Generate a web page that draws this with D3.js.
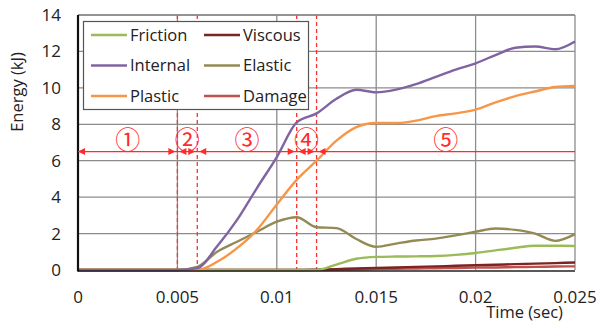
<!DOCTYPE html>
<html lang="en">
<head>
<meta charset="utf-8">
<title>Energy history</title>
<script src="https://d3js.org/d3.v7.min.js"></script>
<style>
  body { margin: 0; background: #fff; }
  text { font-family: "Open Sans", "Noto Sans", sans-serif; fill: #222; }
</style>
</head>
<body>
<div id="chart"></div>
<script>
// time samples (sec)
var times = [0, 0.001, 0.002, 0.003, 0.004, 0.005, 0.006, 0.007, 0.008, 0.009, 0.010,
  0.011, 0.012, 0.013, 0.014, 0.015, 0.016, 0.017, 0.018, 0.019, 0.020,
  0.021, 0.022, 0.023, 0.024, 0.025];

// energies (kJ)
var friction = [0, 0, 0, 0, 0, 0, 0, 0, 0, 0, 0, 0, 0, 0.3, 0.62, 0.72, 0.74, 0.75, 0.77, 0.83, 0.93, 1.08, 1.22, 1.33, 1.33, 1.32];
var viscous  = [0, 0, 0, 0, 0, 0, 0, 0, 0, 0, 0, 0, 0.02, 0.05, 0.08, 0.11, 0.14, 0.17, 0.2, 0.23, 0.26, 0.29, 0.32, 0.35, 0.38, 0.41];
var internal = [0, 0, 0, 0, 0, 0, 0.1, 1.3, 2.75, 4.5, 6.2, 8.1, 8.6, 9.4, 9.9, 9.75, 9.9, 10.2, 10.6, 11.0, 11.35, 11.8, 12.2, 12.27, 12.12, 12.55];
var elastic  = [0, 0, 0, 0, 0, 0, 0.17, 1.0, 1.55, 2.1, 2.65, 2.9, 2.35, 2.3, 1.7, 1.27, 1.45, 1.62, 1.72, 1.9, 2.1, 2.28, 2.2, 2.0, 1.6, 1.97];
var plastic  = [0, 0, 0, 0, 0, 0, 0, 0.45, 1.2, 2.2, 3.6, 4.95, 6.0, 7.1, 7.85, 8.07, 8.07, 8.2, 8.45, 8.6, 8.8, 9.2, 9.55, 9.8, 10.05, 10.1];
var damage   = [0, 0, 0, 0, 0, 0, 0, 0, 0, 0, 0, 0, 0, 0.01, 0.03, 0.05, 0.07, 0.08, 0.1, 0.11, 0.13, 0.14, 0.16, 0.17, 0.19, 0.2];

var seriesNames = ['Friction', 'Viscous', 'Internal', 'Elastic', 'Plastic', 'Damage'];
var seriesColors = ['#9bbb59', '#7b2421', '#8064a2', '#948a54', '#f79646', '#c0504d'];
var seriesValues = [friction, viscous, internal, elastic, plastic, damage];

var xTicks = [0, 0.005, 0.01, 0.015, 0.02, 0.025];
var yTicks = [0, 2, 4, 6, 8, 10, 12, 14];

// phase boundaries and labels
var phaseEdges = [0, 0.005, 0.006, 0.011, 0.012, 0.025];
var phaseLabels = ['①', '②', '③', '④', '⑤'];
var phaseLevel = 6.5;

var width = 599, height = 327;
var margin = { top: 15, right: 24, bottom: 57, left: 78 };

var svg = d3.select('#chart').append('svg')
  .attr('width', width)
  .attr('height', height);

var x = d3.scaleLinear().domain([0, 0.025]).range([margin.left, width - margin.right]);
var y = d3.scaleLinear().domain([0, 14]).range([height - margin.bottom, margin.top]);

// grid lines
svg.append('g').selectAll('line').data(yTicks.slice(1)).enter().append('line')
  .attr('x1', x(0)).attr('x2', x(0.025))
  .attr('y1', function (d) { return y(d); }).attr('y2', function (d) { return y(d); })
  .attr('stroke', '#8c8c8c').attr('stroke-width', 1.3);
svg.append('g').selectAll('line').data(xTicks.slice(1)).enter().append('line')
  .attr('x1', function (d) { return x(d); }).attr('x2', function (d) { return x(d); })
  .attr('y1', y(0)).attr('y2', y(14))
  .attr('stroke', '#8c8c8c').attr('stroke-width', 1.3);

// tick labels
svg.append('g').selectAll('text').data(yTicks).enter().append('text')
  .attr('x', x(0) - 17).attr('y', function (d) { return y(d); })
  .attr('dy', '0.35em').attr('text-anchor', 'end')
  .attr('font-size', '17px')
  .text(function (d) { return d; });
svg.append('g').selectAll('text').data(xTicks).enter().append('text')
  .attr('x', function (d) { return x(d); }).attr('y', 303)
  .attr('text-anchor', 'middle')
  .attr('font-size', '17px')
  .text(function (d) { return d3.format('')(d); });

svg.append('text')
  .attr('transform', 'translate(23,92) rotate(-90)')
  .attr('text-anchor', 'middle').attr('font-size', '16.5px')
  .text('Energy (kJ)');
svg.append('text')
  .attr('x', 563).attr('y', 318).attr('text-anchor', 'end')
  .attr('font-size', '16.5px')
  .text('Time (sec)');

// red phase markers (dashed lines)
svg.append('g').selectAll('line').data(phaseEdges.slice(1, 5)).enter().append('line')
  .attr('x1', function (d) { return x(d); }).attr('x2', function (d) { return x(d); })
  .attr('y1', y(14)).attr('y2', y(0))
  .attr('stroke', '#ff3030').attr('stroke-width', 1.3)
  .attr('stroke-dasharray', '4,3');

// series
var line = d3.line()
  .x(function (d, i) { return x(times[i]); })
  .y(function (d) { return y(d); })
  .curve(d3.curveMonotoneX);

var order = [5, 1, 0, 3, 4, 2];
svg.append('g').selectAll('path').data(order).enter().append('path')
  .attr('d', function (k) { return line(seriesValues[k]); })
  .attr('fill', 'none')
  .attr('stroke', function (k) { return seriesColors[k]; })
  .attr('stroke-width', 2.4);

// axes frame
svg.append('line').attr('x1', x(0)).attr('x2', x(0.025)).attr('y1', y(14)).attr('y2', y(14))
  .attr('stroke', '#8c8c8c').attr('stroke-width', 1.3);
svg.append('line').attr('x1', x(0)).attr('x2', x(0.025)).attr('y1', y(0) + 1).attr('y2', y(0) + 1)
  .attr('stroke', '#222').attr('stroke-width', 1.3);
svg.append('line').attr('x1', x(0)).attr('x2', x(0)).attr('y1', y(14)).attr('y2', y(0) + 1.5)
  .attr('stroke', '#111').attr('stroke-width', 2.2);

// arrows between phase edges
var red = '#ff2b2b';
var ay = y(phaseLevel);
svg.append('line').attr('x1', x(0)).attr('x2', x(0.025)).attr('y1', ay).attr('y2', ay)
  .attr('stroke', red).attr('stroke-width', 1.4);

function head(px, dir) {
  // dir = +1 points right, -1 points left
  var l = 7, h = 3.5;
  svg.append('path')
    .attr('d', 'M' + px + ',' + ay + 'L' + (px - dir * l) + ',' + (ay - h) + 'L' + (px - dir * l) + ',' + (ay + h) + 'Z')
    .attr('fill', red);
}
for (var i = 0; i < phaseLabels.length; i++) {
  var a = x(phaseEdges[i]) + (i === 0 ? 0 : 2);
  var b = x(phaseEdges[i + 1]) - 2;
  head(a, -1);
  if (i < phaseLabels.length - 1) head(b, 1);
  svg.append('text')
    .attr('x', (x(phaseEdges[i]) + x(phaseEdges[i + 1])) / 2)
    .attr('y', ay - 11).attr('dy', '0.35em')
    .attr('text-anchor', 'middle')
    .style('font-family', '"Noto Sans CJK JP", "DejaVu Sans", sans-serif')
    .style('fill', red)
    .attr('font-size', '25px')
    .text(phaseLabels[i]);
}

// legend
var legend = svg.append('g');
legend.append('rect')
  .attr('x', 83.5).attr('y', 21.5).attr('width', 225).attr('height', 88)
  .attr('fill', '#fff').attr('stroke', '#555').attr('stroke-width', 1.2);
seriesNames.forEach(function (name, k) {
  var col = k % 2, row = Math.floor(k / 2);
  var lx = col === 0 ? 91 : 204;
  var ly = 35 + row * 30.5;
  legend.append('line')
    .attr('x1', lx).attr('x2', lx + 36).attr('y1', ly).attr('y2', ly)
    .attr('stroke', seriesColors[k]).attr('stroke-width', 2.4);
  legend.append('text')
    .attr('x', lx + 39).attr('y', ly).attr('dy', '0.35em')
    .attr('font-size', '16.5px')
    .text(name);
});
</script>
</body>
</html>
